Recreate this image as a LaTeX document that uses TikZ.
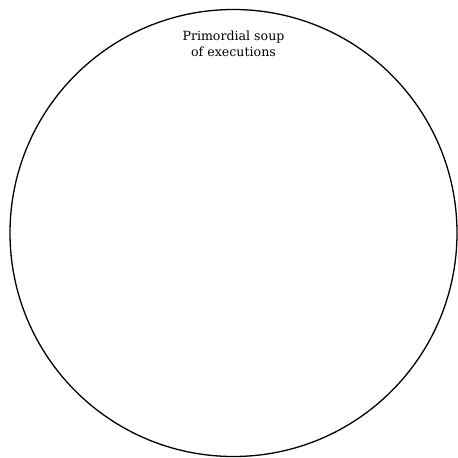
\documentclass[tikz,border=0pt]{standalone}
\usepackage{fontspec}
\setmainfont{DejaVu Serif}
\begin{document}
\begin{tikzpicture}[x=1pt,y=-1pt,
  soup/.style={draw=black,line width=1.3pt},
  lbl/.style={align=center,font=\fontsize{12.6}{16}\selectfont,inner sep=0pt}]
\useasboundingbox (0,0) rectangle (458,458);
\node[soup,circle,minimum size=447pt,inner sep=0pt] (soup) at (233.5,233) {};
\node[lbl] (title) at (233.5,44) {Primordial soup\\of executions};
\end{tikzpicture}
\end{document}
